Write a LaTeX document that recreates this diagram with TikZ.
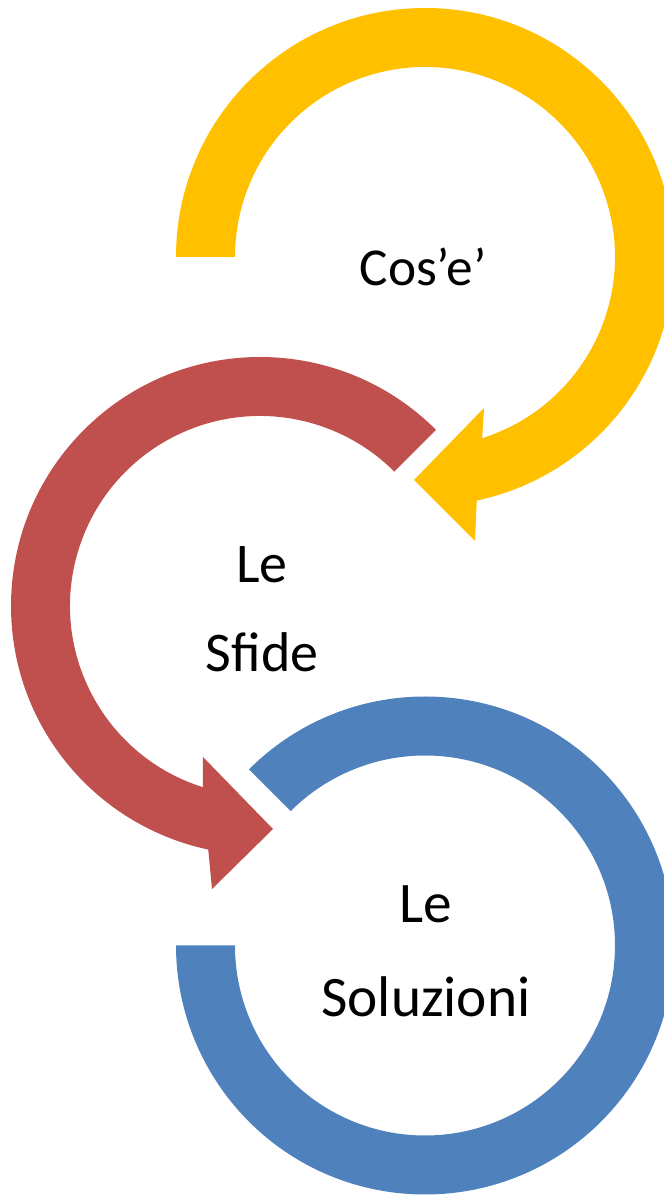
\documentclass[tikz,border=0pt]{standalone}
\usepackage{fontspec}
\setmainfont{Carlito}
\usepackage{tikz}
\definecolor{gold}{HTML}{FFC000}
\definecolor{brick}{HTML}{C0504D}
\definecolor{steel}{HTML}{4F81BD}
\tikzstyle{every node}=[inner sep=0pt]
\tikzstyle{caption}=[align=center,anchor=base,font=\fontsize{42}{67}\selectfont]

\begin{document}
\begin{tikzpicture}[x=0.75pt,y=0.75pt]
\useasboundingbox (0,0) rectangle (664,1196);
\coordinate (c_1) at (425,939);
\coordinate (c_2) at (260,590);
\coordinate (c_3) at (425,250.5);
% gold arrow, top
\begin{scope}[shift={(c_1)}]
\fill[gold] (180:249) arc[start angle=180,end angle=-78,radius=249]
	-- (50,-284) -- (-11,-223) -- (59,-151)
	-- (-72.5:190) arc[start angle=-72.5,end angle=180,radius=190] -- cycle;
\end{scope}
% brick arrow, middle
\begin{scope}[shift={(c_2)}]
\fill[brick] (45:249) arc[start angle=45,end angle=258,radius=249]
	-- (-48,-283) -- (13,-223) -- (-57,-151)
	-- (252.5:190) arc[start angle=252.5,end angle=45,radius=190] -- cycle;
\end{scope}
% steel ring, bottom
\begin{scope}[shift={(c_3)}]
\fill[steel] (135:249) arc[start angle=135,end angle=-180,radius=249]
	-- (-180:190) arc[start angle=-180,end angle=135,radius=190] -- cycle;
\end{scope}
\node[caption,font=\fontsize{40}{64}\selectfont] (cose) at (423,910) {Cos’e’};
\node[caption] (sfide)     at (262,524) {Le\\Sfide};
\node[caption,font=\fontsize{43}{70.5}\selectfont] (soluzioni) at (426,179) {Le\\Soluzioni};
\end{tikzpicture}
\end{document}
